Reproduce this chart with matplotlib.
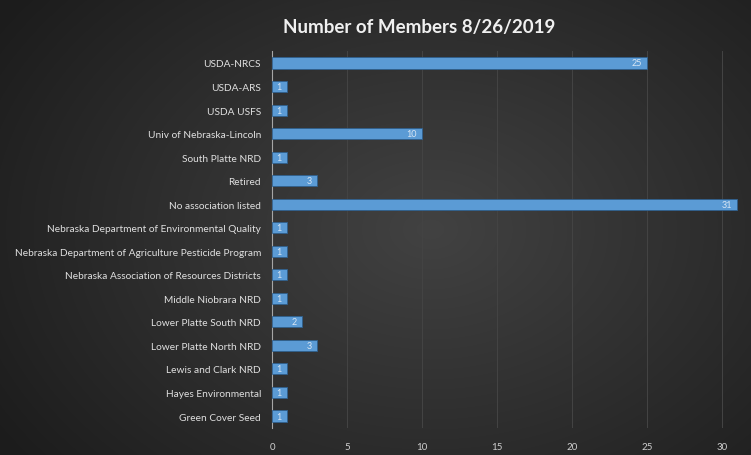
import numpy as np
import matplotlib
matplotlib.use("Agg")
import matplotlib.pyplot as plt

categories = [
    "USDA-NRCS", "USDA-ARS", "USDA USFS", "Univ of Nebraska-Lincoln",
    "South Platte NRD", "Retired", "No association listed",
    "Nebraska Department of Environmental Quality",
    "Nebraska Department of Agriculture Pesticide Program",
    "Nebraska Association of Resources Districts",
    "Middle Niobrara NRD", "Lower Platte South NRD", "Lower Platte North NRD",
    "Lewis and Clark NRD", "Hayes Environmental", "Green Cover Seed",
]
members = [25, 1, 1, 10, 1, 3, 31, 1, 1, 1, 1, 2, 3, 1, 1, 1]
xticks = [0, 5, 10, 15, 20, 25, 30]
title = "Number of Members 8/26/2019"

plt.rcParams['font.family'] = ['Lato', 'DejaVu Sans']

fig = plt.figure(figsize=(7.51, 4.56), dpi=100)

# radial gradient background
bg = fig.add_axes([0, 0, 1, 1], zorder=0)
yy, xx = np.mgrid[0:456, 0:751]
cx, cy = 430, 230
r = np.sqrt(((xx - cx) / 520.0) ** 2 + ((yy - cy) / 380.0) ** 2)
r = np.clip(r, 0, 1)
c0 = np.array([0x42, 0x42, 0x42]) / 255.0
c1 = np.array([0x1c, 0x1c, 0x1c]) / 255.0
img = c0[None, None, :] * (1 - r[..., None]) + c1[None, None, :] * r[..., None]
bg.imshow(img, aspect='auto', extent=[0, 1, 0, 1], origin='upper')
bg.set_axis_off()

ax = fig.add_axes([272 / 751, 1 - 428.8 / 456, 468 / 751, 376.6 / 456], zorder=1)
ax.patch.set_alpha(0)

y = np.arange(len(categories))
bars = ax.barh(y, members, height=0.47, color='#5b9bd5', edgecolor='#2f5f8c',
               linewidth=0.6, zorder=3)
for b, v in zip(bars, members):
    ax.text(b.get_width() - 0.35, b.get_y() + b.get_height() / 2, str(v),
            ha='right', va='center', fontsize=6.5, color='#d8e6f4', zorder=4)

ax.set_ylim(len(categories) - 0.5, -0.5)
ax.set_xlim(0, 31.2)
ax.set_yticks(y)
ax.set_yticklabels(categories, fontsize=7.3, color='#e0e0e0')
ax.set_xticks(xticks)
ax.set_xticklabels([str(t) for t in xticks], fontsize=7, color='#cfcfcf')
ax.tick_params(axis='both', length=0)
ax.tick_params(axis='y', pad=8)
ax.tick_params(axis='x', pad=10)
ax.xaxis.grid(True, color='#444444', linewidth=0.7, zorder=0)
ax.set_axisbelow(True)
for s in ['top', 'right', 'bottom']:
    ax.spines[s].set_visible(False)
ax.spines['left'].set_color('#a6a6a6')
ax.spines['left'].set_linewidth(0.8)

fig.text(0.558, 0.94, title, ha='center', va='center', fontsize=13.5,
         fontweight='bold', color='#f0f0f0')

fig.savefig("out.png", dpi=100)
